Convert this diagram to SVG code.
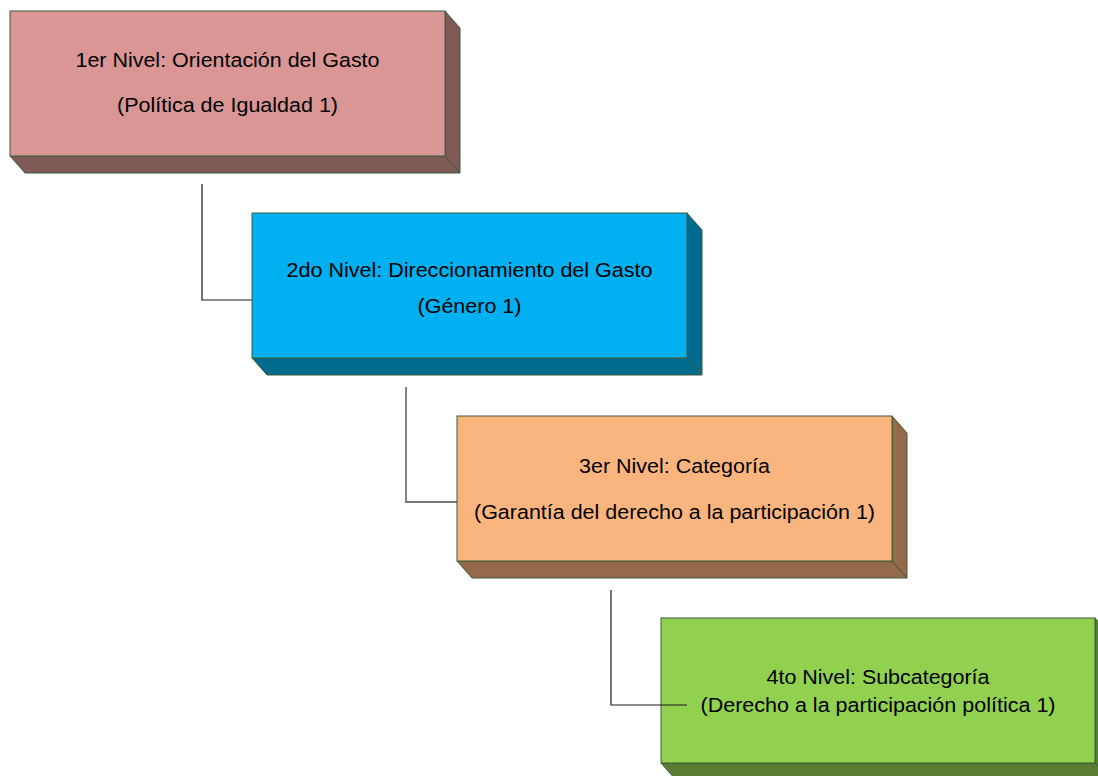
<svg xmlns="http://www.w3.org/2000/svg" width="1098" height="776" viewBox="0 0 1098 776">
<style>
.edge{stroke:#3d5c3d;stroke-width:1;stroke-linejoin:miter}
.t{font-family:"Liberation Sans",Arial,sans-serif;font-size:20.5px;fill:#000;text-anchor:middle}
.c1{fill:none;stroke:#1a1a1a;stroke-width:1.2}
.c2{fill:none;stroke:#777777;stroke-width:1.8}
</style>
<rect width="1098" height="776" fill="#ffffff"/>
<g id="connectors">
<polyline class="c1" points="202,184 202,300 252,300"/>
<polyline class="c2" points="406,387 406,502 457,502"/>
</g>
<g id="node1">
<polygon class="edge" fill="#7e5956" points="445,11 460,28 460,173 445,156"/>
<polygon class="edge" fill="#7e5956" points="10,156 445,156 460,173 25,173"/>
<rect class="edge" x="10" y="11" width="435" height="145" fill="#d99694"/>
<text class="t" x="227.5" y="67" textLength="304" lengthAdjust="spacingAndGlyphs">1er Nivel: Orientación del Gasto</text>
<text class="t" x="227.5" y="112" textLength="221" lengthAdjust="spacingAndGlyphs">(Política de Igualdad 1)</text>
</g>
<g id="node2">
<polygon class="edge" fill="#006a8f" points="687,213 702,230 702,375 687,358"/>
<polygon class="edge" fill="#006a8f" points="252,358 687,358 702,375 267,375"/>
<rect class="edge" x="252" y="213" width="435" height="145" fill="#00b0f0"/>
<text class="t" x="469.5" y="277" textLength="366" lengthAdjust="spacingAndGlyphs">2do Nivel: Direccionamiento del Gasto</text>
<text class="t" x="469.5" y="313" textLength="104" lengthAdjust="spacingAndGlyphs">(Género 1)</text>
</g>
<g id="node3">
<polygon class="edge" fill="#946a4b" points="892,416 907,433 907,578 892,561"/>
<polygon class="edge" fill="#946a4b" points="457,561 892,561 907,578 472,578"/>
<rect class="edge" x="457" y="416" width="435" height="145" fill="#f9b57d"/>
<text class="t" x="674.5" y="473" textLength="191" lengthAdjust="spacingAndGlyphs">3er Nivel: Categoría</text>
<text class="t" x="674.5" y="519" textLength="401" lengthAdjust="spacingAndGlyphs">(Garantía del derecho a la participación 1)</text>
</g>
<g id="node4">
<polygon class="edge" fill="#587a31" points="1095,618 1110,635 1110,780 1095,763"/>
<polygon class="edge" fill="#587a31" points="661,763 1095,763 1110,780 676,780"/>
<rect class="edge" x="661" y="618" width="434" height="145" fill="#92d050"/>
<text class="t" x="878" y="684" textLength="223" lengthAdjust="spacingAndGlyphs">4to Nivel: Subcategoría</text>
<text class="t" x="878" y="712" textLength="355" lengthAdjust="spacingAndGlyphs">(Derecho a la participación política 1)</text>
</g>
<g id="connectors-top">
<polyline class="c1" points="611,590 611,705 687,705"/>
</g>
</svg>
